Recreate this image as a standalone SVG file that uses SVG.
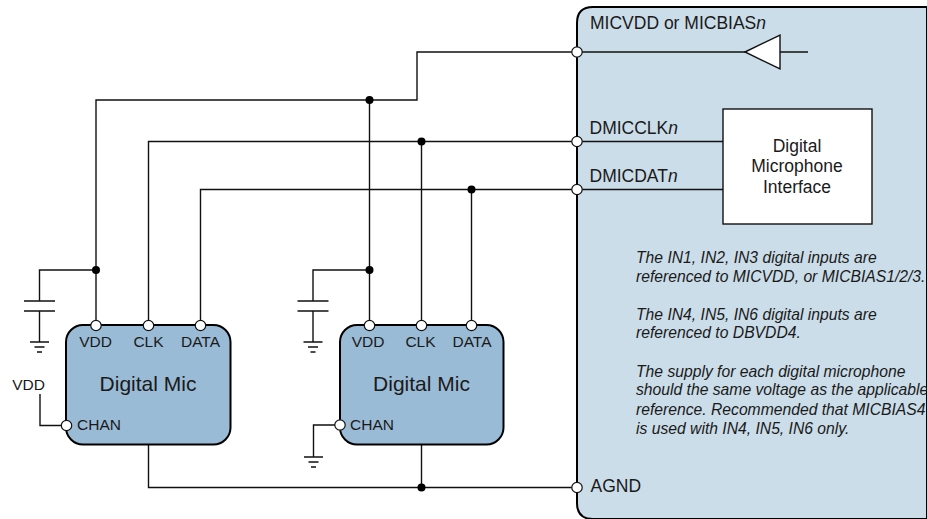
<svg xmlns="http://www.w3.org/2000/svg" width="927" height="519" viewBox="0 0 927 519">
<style>
text{font-family:"Liberation Sans",Arial,sans-serif;fill:#1a1a1a}
.w{fill:none;stroke:#111;stroke-width:1.4}
.b{fill:#9abbd6;stroke:#000;stroke-width:2}
.p{fill:#fff;stroke:#111;stroke-width:1.2}
.d{fill:#000}
.s{font-size:15.500px}
.t{font-size:17.500px}
.l{font-size:21px}
.c{text-anchor:middle}
.n{font-size:15.700px;font-style:italic}
</style>
<defs>
<circle id="pin" r="5.200" class="p"/>
<circle id="dot" r="4" class="d"/>
<g id="gnd"><path class="w" d="M-9.500 0H9.500M-5 5H5M-2.500 10H2.500"/></g>
<g id="cap"><path class="w" d="M-15.500 0H15.500M-15.500 10H15.500"/></g>
</defs>
<g id="device">
<path d="M927 7H593Q577 7 577 23V503Q577 519 593 519H927Z" fill="#cbdde9" stroke="#000" stroke-width="2"/>
<text class="t" x="590" y="29">MICVDD or MICBIAS<tspan font-style="italic">n</tspan></text>
<text class="t" x="589.500" y="134">DMICCLK<tspan font-style="italic">n</tspan></text>
<text class="t" x="589.500" y="181.500">DMICDAT<tspan font-style="italic">n</tspan></text>
<text class="t" x="590.500" y="492">AGND</text>
<g class="n">
<text x="636" y="262.500">The IN1, IN2, IN3 digital inputs are</text>
<text x="636" y="281.500">referenced to MICVDD, or MICBIAS1/2/3.</text>
<text x="636" y="320">The IN4, IN5, IN6 digital inputs are</text>
<text x="636" y="338">referenced to DBVDD4.</text>
<text x="636" y="376.500">The supply for each digital microphone</text>
<text x="636" y="395">should the same voltage as the applicable</text>
<text x="636" y="415">reference. Recommended that MICBIAS4</text>
<text x="636" y="434">is used with IN4, IN5, IN6 only.</text>
</g>
</g>
<g id="connectors">
<path class="w" d="M96 324V100H417V52H745M776 52H808"/>
<path class="w" d="M148.500 324V141.500H723"/>
<path class="w" d="M200.500 324V189.500H723"/>
<path class="w" d="M369.500 324V100"/>
<path class="w" d="M421.500 324V141.500"/>
<path class="w" d="M471.500 324V189.500"/>
<path class="w" d="M96 270H39.500V301M39.500 311V342"/>
<path class="w" d="M369.500 270H313V301M313 311V342"/>
<path class="w" d="M40 394V425.500H66"/>
<path class="w" d="M340 425H313.500V457"/>
<path class="w" d="M148.500 445V487.500H577"/>
<path class="w" d="M421.500 445V487.500"/>
<use href="#dot" x="96" y="270"/>
<use href="#dot" x="369.500" y="100"/>
<use href="#dot" x="369.500" y="270"/>
<use href="#dot" x="421.500" y="141.500"/>
<use href="#dot" x="471.500" y="189.500"/>
<use href="#dot" x="421.500" y="487.500"/>
<use href="#cap" x="39.500" y="301"/>
<use href="#cap" x="313" y="301"/>
<use href="#gnd" x="39.500" y="342"/>
<use href="#gnd" x="313" y="342"/>
<use href="#gnd" x="313.500" y="457"/>
</g>
<g id="buffer"><path d="M745 52L780 35V69Z" fill="#fff" stroke="#111" stroke-width="1.400"/></g>
<g id="interface">
<rect x="723" y="109" width="149" height="115" fill="#fff" stroke="#111" stroke-width="1.400"/>
<text class="t c" x="797" y="152">Digital</text>
<text class="t c" x="797" y="172">Microphone</text>
<text class="t c" x="797" y="193">Interface</text>
</g>
<use href="#pin" x="577" y="52"/>
<use href="#pin" x="577" y="141.500"/>
<use href="#pin" x="577" y="189.500"/>
<use href="#pin" x="577" y="487.500"/>
<g id="mic1">
<rect class="b" x="66" y="325" width="164.500" height="119.500" rx="17"/>
<use href="#pin" x="96" y="325.500"/>
<use href="#pin" x="148.500" y="325.500"/>
<use href="#pin" x="200.500" y="325.500"/>
<use href="#pin" x="66.500" y="425.500"/>
<text class="s c" x="95.500" y="347">VDD</text>
<text class="s c" x="148.500" y="347">CLK</text>
<text class="s c" x="200.500" y="347">DATA</text>
<text class="s" x="77" y="430">CHAN</text>
<text class="l c" x="148" y="391">Digital Mic</text>
</g>
<g id="mic2">
<rect class="b" x="340" y="325" width="163.500" height="119.500" rx="17"/>
<use href="#pin" x="369.500" y="325.500"/>
<use href="#pin" x="421.500" y="325.500"/>
<use href="#pin" x="471.500" y="325.500"/>
<use href="#pin" x="340" y="425"/>
<text class="s c" x="368" y="347">VDD</text>
<text class="s c" x="420.500" y="347">CLK</text>
<text class="s c" x="472" y="347">DATA</text>
<text class="s" x="350" y="430">CHAN</text>
<text class="l c" x="421.500" y="391">Digital Mic</text>
</g>
<g id="vdd"><text class="s c" x="28.500" y="390">VDD</text></g>
</svg>
